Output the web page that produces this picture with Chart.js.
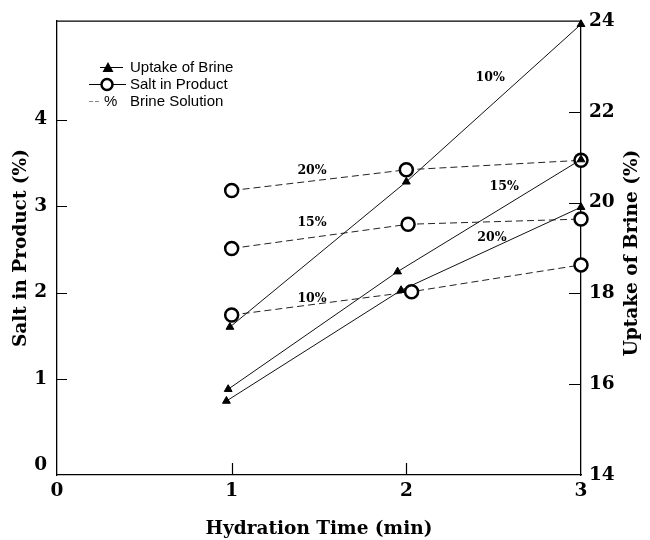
<!DOCTYPE html>
<html>
<head>
<meta charset="utf-8">
<title>Salt in Product and Uptake of Brine</title>
<script src="https://cdn.jsdelivr.net/npm/chart.js@4.4.0/dist/chart.umd.min.js"></script>
<style>
  html, body { margin: 0; padding: 0; background: #fff; }
  #wrap { width: 650px; height: 540px; }
</style>
</head>
<body>
<div id="wrap"><canvas id="chart" width="650" height="540"></canvas></div>
<script>
// Hydration time (min) of each reading, per brine strength
const saltTime10 = [1, 2.03, 3];
const saltTime15 = [1, 2.01, 3];
const saltTime20 = [1, 2.0, 3];
const uptakeTime10 = [0.99, 2.0, 3];
const uptakeTime15 = [0.98, 1.95, 3];
const uptakeTime20 = [0.97, 1.97, 3];

// Salt in product (%) - left axis
const salt10 = [1.74, 2.01, 2.32];
const salt15 = [2.51, 2.79, 2.85];
const salt20 = [3.18, 3.42, 3.53];

// Uptake of brine (%) - right axis
const uptake10 = [17.26, 20.46, 23.93];
const uptake15 = [15.89, 18.48, 20.95];
const uptake20 = [15.63, 18.07, 19.9];

// Tick labels
const timeTicks = [0, 1, 2, 3];
const saltTicks = [0, 1, 2, 3, 4];
const uptakeTicks = [14, 16, 18, 20, 22, 24];

// Brine strength labels written beside the lines: [text, time, value, axis]
const lineLabels = [
  ['20%', 1.46, 3.41, 'y'],
  ['15%', 1.46, 2.81, 'y'],
  ['10%', 1.46, 1.93, 'y'],
  ['10%', 2.48, 22.75, 'y2'],
  ['15%', 2.56, 20.35, 'y2'],
  ['20%', 2.49, 19.22, 'y2']
];

const tickFont = { family: 'DejaVu Serif', size: 18.5, weight: 'bold' };
const titleFont = { family: 'DejaVu Serif', size: 18.5, weight: 'bold' };

function pairs(xs, ys) {
  return xs.map((x, i) => ({ x: x, y: ys[i] }));
}

function uptakeSet(xs, ys) {
  return {
    data: pairs(xs, ys),
    yAxisID: 'y2',
    borderColor: '#111',
    borderWidth: 1,
    pointStyle: 'triangle',
    pointRadius: 4.5,
    pointBackgroundColor: '#000',
    pointBorderColor: '#000',
    pointBorderWidth: 1,
    clip: false
  };
}

function saltSet(xs, ys) {
  return {
    data: pairs(xs, ys),
    yAxisID: 'y',
    borderColor: '#222',
    borderWidth: 1,
    borderDash: [7, 4],
    pointStyle: 'circle',
    pointRadius: 6.5,
    pointBackgroundColor: '#fff',
    pointBorderColor: '#000',
    pointBorderWidth: 2.5,
    clip: false
  };
}

// Inner tick marks, top border, right title, legend and line labels
const extras = {
  id: 'extras',
  afterDraw(chart) {
    const ctx = chart.ctx;
    const a = chart.chartArea;
    const sx = chart.scales.x, sy = chart.scales.y, sy2 = chart.scales.y2;
    ctx.save();
    ctx.strokeStyle = '#000';
    ctx.lineWidth = 1.2;
    ctx.beginPath();
    ctx.moveTo(a.left, a.top);
    ctx.lineTo(a.right, a.top);
    [1, 2, 3, 4].forEach(v => {
      const py = Math.round(sy.getPixelForValue(v)) + 0.5;
      ctx.moveTo(a.left, py);
      ctx.lineTo(a.left + 10, py);
    });
    [16, 18, 20, 22].forEach(v => {
      const py = Math.round(sy2.getPixelForValue(v)) + 0.5;
      ctx.moveTo(a.right, py);
      ctx.lineTo(a.right - 12, py);
    });
    [1, 2].forEach(v => {
      const px = Math.round(sx.getPixelForValue(v)) + 0.5;
      ctx.moveTo(px, a.bottom);
      ctx.lineTo(px, a.bottom - 12);
    });
    ctx.stroke();

    // right axis title, reading bottom to top
    ctx.fillStyle = '#000';
    ctx.font = 'bold 18.5px "DejaVu Serif"';
    ctx.textAlign = 'center';
    ctx.textBaseline = 'middle';
    ctx.translate(632, (a.top + a.bottom) / 2 + 5);
    ctx.rotate(-Math.PI / 2);
    ctx.fillText('Uptake of Brine (%)', 0, 0);
    ctx.restore();

    // line labels
    ctx.save();
    ctx.fillStyle = '#000';
    ctx.font = 'bold 12.5px "DejaVu Serif"';
    ctx.textAlign = 'center';
    ctx.textBaseline = 'middle';
    lineLabels.forEach(l => {
      const scale = chart.scales[l[3]];
      ctx.fillText(l[0], sx.getPixelForValue(l[1]), scale.getPixelForValue(l[2]));
    });
    ctx.restore();

    // legend
    ctx.save();
    ctx.font = '15px "Liberation Sans"';
    ctx.textBaseline = 'middle';
    ctx.fillStyle = '#000';
    ctx.strokeStyle = '#000';
    ctx.lineWidth = 1;
    // Uptake of Brine
    ctx.beginPath();
    ctx.moveTo(100, 67.5); ctx.lineTo(123, 67.5);
    ctx.stroke();
    ctx.beginPath();
    ctx.moveTo(108, 62); ctx.lineTo(113.5, 72); ctx.lineTo(102.5, 72);
    ctx.closePath();
    ctx.fill();
    ctx.fillText('Uptake of Brine', 130, 68);
    // Salt in Product
    ctx.beginPath();
    ctx.moveTo(89, 84.5); ctx.lineTo(126, 84.5);
    ctx.stroke();
    ctx.beginPath();
    ctx.arc(107, 84.5, 5.5, 0, Math.PI * 2);
    ctx.fillStyle = '#fff';
    ctx.fill();
    ctx.lineWidth = 2.5;
    ctx.stroke();
    ctx.fillStyle = '#000';
    ctx.fillText('Salt in Product', 130, 85);
    // % Brine Solution
    ctx.strokeStyle = '#888';
    ctx.lineWidth = 1;
    ctx.setLineDash([4, 2]);
    ctx.beginPath();
    ctx.moveTo(89, 101.5); ctx.lineTo(100, 101.5);
    ctx.stroke();
    ctx.setLineDash([]);
    ctx.fillText('%', 104, 102);
    ctx.fillText('Brine Solution', 130, 102);
    ctx.restore();
  }
};

new Chart(document.getElementById('chart'), {
  type: 'line',
  data: {
    datasets: [
      uptakeSet(uptakeTime10, uptake10),
      uptakeSet(uptakeTime15, uptake15),
      uptakeSet(uptakeTime20, uptake20),
      saltSet(saltTime20, salt20),
      saltSet(saltTime15, salt15),
      saltSet(saltTime10, salt10)
    ]
  },
  options: {
    responsive: false,
    animation: false,
    layout: { padding: { top: 15, left: 0, right: 0, bottom: 0 } },
    plugins: { legend: { display: false }, tooltip: { enabled: false } },
    scales: {
      x: {
        type: 'linear',
        min: 0,
        max: 3,
        afterBuildTicks: s => { s.ticks = timeTicks.map(v => ({ value: v })); },
        afterFit: s => { s.height = 65; },
        grid: { display: true, drawOnChartArea: false, drawTicks: false },
        border: { display: true, color: '#000', width: 1.3 },
        ticks: { color: '#000', font: tickFont, padding: 5 },
        title: { display: true, text: 'Hydration Time (min)', color: '#000', font: titleFont, padding: { top: 2, bottom: 0 } }
      },
      y: {
        type: 'linear',
        position: 'left',
        min: -0.11,
        max: 5.14,
        afterBuildTicks: s => { s.ticks = saltTicks.map(v => ({ value: v })); },
        afterFit: s => { s.width = 57; },
        grid: { display: true, drawOnChartArea: false, drawTicks: false },
        border: { display: true, color: '#000', width: 1.3 },
        ticks: { color: '#000', font: tickFont, padding: 10 },
        title: { display: true, text: 'Salt in Product (%)', color: '#000', font: titleFont, padding: { top: 10, bottom: 0 } }
      },
      y2: {
        type: 'linear',
        position: 'right',
        min: 14,
        max: 24,
        afterBuildTicks: s => { s.ticks = uptakeTicks.map(v => ({ value: v })); },
        afterFit: s => { s.width = 69; },
        grid: { display: true, drawOnChartArea: false, drawTicks: false },
        border: { display: true, color: '#000', width: 1.3 },
        ticks: { color: '#000', font: tickFont, padding: 8 }
      }
    }
  },
  plugins: [extras]
});
</script>
</body>
</html>
